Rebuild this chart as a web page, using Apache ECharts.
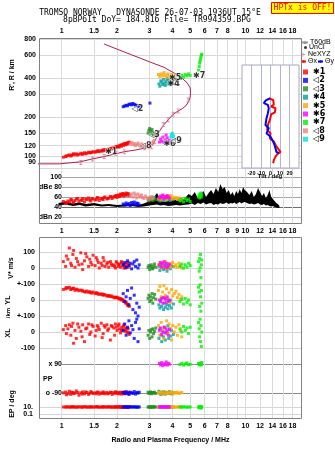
<!DOCTYPE html>
<html>
<head>
<meta charset="utf-8">
<script src="https://cdn.jsdelivr.net/npm/echarts@6/dist/echarts.min.js"></script>
<style>
  html, body { margin: 0; padding: 0; background: #fff; }
  #chart { width: 335px; height: 451px; }
</style>
</head>
<body>
<div id="chart"></div>
<script>
  const freqTicks = [1, 1.5, 2, 3, 4, 5, 6, 7, 8, 9, 10, 12, 14, 16, 18]
  const heightTicks = [80, 90, 100, 120, 150, 200, 300, 400, 600, 800]
  const dbTicks = [20, 40, 60, 80, 100]
  const dbTickNames = ['dBn 20', '40', '60', 'dBe 80', '100']
  const vTicks = [-100, 0, 100]
  const vTickNames = ['+-100', '0', '100']
  const ylTicks = [-100, 0]
  const ylTickNames = ['+-100', '0']
  const xlTicks = [-100, 0]
  const xlTickNames = ['-100', '0']
  const ppTicks = [-90, 90]
  const ppTickNames = ['o -90', 'x 90']
  const epTicks = [0.1, 10]
  const epTickNames = ['0.1', '10.']
  const tiltTicks = [-20, -10, 0, 10, 20]

  const echoNames = ['✱1', '◁2', '◁3', '✱4', '✱5', '✱6', '✱7', '◁8', '◁9']
  const echoColors = ['#ff0000', '#0000ff', '#208c20', '#00a0a0', '#ffa500', '#ff00ff', '#00f000', '#f08080', '#00e0e0']

  // rows: [freq MHz, R' km, V* m/s, YL km, XL km, PP deg, EP deg, amplitude dB]
  const echo1 = [
    [1.02, 98, 40, 66, 15, -90, 10, 51], [1.05, 99, 10, 70, 40, -85, 10, 49],
    [1.06, 100, 75, 78, -10, -102, 10, 47], [1.08, 101, 55, 75, 20, -95, 11, 52],
    [1.10, 102, 125, 80, 45, -80, 9, 50], [1.12, 100, 30, 65, -20, -100, 10, 55],
    [1.13, 101, 15, 70, 35, -86, 11, 54], [1.15, 103, 85, 72, 55, -88, 12, 48],
    [1.16, 104, 110, 74, -70, -94, 10, 50], [1.18, 102, 5, 60, 10, -92, 10, 53],
    [1.20, 104, 60, 68, -40, -78, 9, 56], [1.22, 102, 40, 64, 50, -88, 10, 57],
    [1.24, 103, 20, 58, 30, -105, 11, 51], [1.27, 105, 95, 62, 5, -90, 10, 54],
    [1.29, 103, 25, 60, -30, -98, 9, 53], [1.30, 104, -10, 55, 45, -84, 10, 57],
    [1.33, 106, 45, 52, -60, -96, 12, 50], [1.35, 104, 90, 50, 20, -84, 11, 56],
    [1.37, 105, 70, 56, 25, -88, 9, 55], [1.40, 107, 10, 48, 50, -100, 10, 58],
    [1.42, 106, 55, 52, -15, -92, 10, 54], [1.44, 106, 35, 45, 0, -82, 11, 52],
    [1.46, 107, 20, 44, 45, -88, 10, 57], [1.48, 108, 80, 50, 35, -94, 10, 56],
    [1.52, 107, 15, 40, -25, -90, 10, 54], [1.54, 108, 65, 46, 10, -96, 12, 55],
    [1.56, 109, 50, 42, 40, -86, 12, 59], [1.58, 110, 35, 36, 30, -86, 10, 58],
    [1.60, 108, 0, 38, 15, -98, 9, 53], [1.64, 110, 30, 35, 55, -90, 10, 57],
    [1.66, 109, 15, 38, -35, -94, 10, 56], [1.68, 111, 65, 30, -10, -84, 11, 55],
    [1.70, 112, 45, 34, 40, -90, 11, 59], [1.72, 110, 10, 32, 30, -96, 10, 60],
    [1.76, 112, 25, 26, 45, -88, 10, 56], [1.78, 111, 35, 24, 10, -96, 10, 57],
    [1.80, 113, 5, 28, 20, -92, 12, 58], [1.84, 114, 40, 22, -50, -86, 10, 61],
    [1.86, 113, 25, 26, 40, -88, 10, 60], [1.88, 115, 15, 20, 35, -100, 9, 57],
    [1.92, 116, 20, 18, 25, -90, 10, 60], [1.94, 115, 10, 14, -20, -92, 10, 61],
    [1.96, 117, 0, 15, 50, -84, 11, 62], [1.98, 118, 40, 18, 30, -86, 11, 63],
    [2.00, 118, 30, 16, 10, -94, 10, 59], [2.03, 119, 10, 12, 40, -88, 10, 64],
    [2.05, 117, 20, 6, 50, -96, 10, 62], [2.06, 120, 25, 10, 20, -92, 12, 61],
    [2.09, 121, 5, 8, -5, -86, 10, 66], [2.11, 119, 40, 0, 10, -90, 10, 65],
    [2.12, 122, 35, 5, 30, -98, 9, 63], [2.15, 123, 15, 2, 15, -90, 10, 67],
    [2.17, 121, 25, -8, 35, -94, 10, 66], [2.18, 124, 0, -5, 45, -84, 11, 62],
    [2.21, 125, 20, -10, 5, -94, 10, 65], [2.23, 122, 0, -20, 15, -86, 11, 64],
    [2.24, 124, 10, -15, 25, -88, 10, 68], [2.27, 126, 30, -25, 0, -92, 12, 64],
    [2.29, 124, 35, -35, -5, -90, 10, 67], [2.30, 127, 5, -30, 20, -86, 10, 66],
    [2.33, 128, 15, -40, -15, -96, 10, 63]
  ]
  const echo2 = [
    [2.16, 240, 20, 40, 10, -88, 10, 46], [2.20, 243, 35, -10, 50, -96, 11, 44],
    [2.24, 246, 5, 20, -20, -84, 10, 48], [2.28, 244, 45, 60, 30, -92, 9, 45],
    [2.32, 250, 15, -30, 70, -100, 10, 47], [2.36, 252, 30, 10, -5, -86, 12, 43],
    [2.40, 248, -5, 75, 40, -90, 10, 49], [2.44, 254, 25, -60, 15, -94, 10, 46],
    [2.48, 250, 40, 30, -40, -82, 11, 50], [2.52, 247, 10, -80, 60, -98, 10, 45],
    [2.56, 244, 50, -20, 80, -88, 9, 48], [2.60, 240, 0, -100, -60, -92, 10, 47],
    [2.64, 245, 20, -45, 20, -86, 10, 44], [3.02, 256, null, null, null, null, null, null]
  ]
  const echo3 = [
    [2.95, 150, 5, 10, -20, -86, 10, 55], [2.98, 158, 15, 30, 10, -94, 10, 52],
    [3.01, 163, -10, -10, -40, -90, 11, 58], [3.04, 155, 10, 20, 0, -84, 10, 54],
    [3.07, 148, 20, 0, 15, -96, 9, 57], [3.10, 160, 0, 40, -30, -88, 10, 60],
    [3.13, 152, -5, -20, 20, -92, 10, 53], [3.16, 145, 10, 15, -10, -90, 12, 56],
    [3.20, 150, 25, 35, 5, -86, 10, 59], [3.25, 146, 5, 5, 25, -94, 10, 55]
  ]
  const echo4 = [
    [3.38, 360, 10, -30, -40, -80, 10, 54], [3.42, 345, -15, -50, 20, -92, 10, 52],
    [3.46, 380, 20, 0, -20, -100, 11, 58], [3.50, 370, 5, -40, -60, -88, 10, 55],
    [3.54, 355, 30, 15, 10, -96, 9, 60], [3.58, 390, -10, -60, -30, -84, 10, 53],
    [3.62, 365, 15, -20, 30, -90, 10, 57], [3.66, 350, 0, -45, -50, -98, 12, 56],
    [3.70, 375, 25, 10, 0, -86, 10, 59], [3.74, 395, -20, -30, -10, -92, 10, 54],
    [3.78, 360, 10, -55, 40, -88, 11, 58], [3.82, 385, 5, -10, -40, -94, 10, 55],
    [3.86, 370, 20, -35, 20, -82, 10, 57], [3.90, 355, -5, 0, -25, -90, 9, 53],
    [3.95, 380, 15, -50, 10, -96, 10, 56], [4.05, null, 10, -25, -15, -88, 10, 55]
  ]
  const echo5 = [
    [3.36, 425, 20, 60, 40, -90, 10, 56], [3.42, 410, 35, 85, -20, -86, 11, 60],
    [3.48, 430, 0, 20, 60, -96, 10, 54], [3.54, 415, 25, 50, 10, -82, 10, 62],
    [3.60, 440, 10, 90, -40, -92, 9, 57], [3.66, 420, 40, 30, 30, -100, 10, 59],
    [3.72, 405, -5, 70, 70, -88, 12, 55], [3.78, 430, 30, 10, -10, -94, 10, 61],
    [3.84, 415, 15, 45, 50, -86, 10, 58], [3.90, 400, 5, -15, 20, -90, 11, 63],
    [3.96, 425, 25, 65, -50, -84, 10, 56], [4.02, 410, 35, 25, 40, -98, 10, 60],
    [4.10, 420, 10, 40, 0, -88, 9, 57], [4.18, null, 20, 55, 30, -92, 10, 59],
    [4.26, null, 5, 15, -20, -86, 10, 55], [4.34, null, 30, 35, 45, -94, 11, 58],
    [4.42, null, 15, 5, 10, -90, 10, 54], [4.50, null, 0, 20, -30, -88, 10, 56]
  ]
  const echo6 = [
    [3.40, 128, 20, 0, 10, 95, 10, 58], [3.45, 135, 35, -10, 25, 85, 10, 62],
    [3.50, 130, 5, 10, -15, 100, 11, 60], [3.55, 140, 25, -20, 0, 80, 10, 64],
    [3.60, 127, 40, 15, 30, 92, 9, 57], [3.65, 133, 10, 5, -5, 88, 10, 61],
    [3.70, 145, 30, -15, 20, 104, 10, 59], [3.75, 138, 0, 20, 5, 84, 12, 63],
    [3.80, 126, 15, 0, -20, 96, 10, 60], [3.85, 132, 25, -5, 15, 90, 10, 58]
  ]
  const echo7 = [
    [4.40, 410, 10, -10, 20, 88, 10, 52], [4.50, 420, 25, 5, 0, 95, 10, 55],
    [4.60, 405, 0, -25, 35, 84, 11, 50], [4.70, 425, 20, 10, 10, 92, 10, 57],
    [4.80, 415, 5, -15, 25, 98, 9, 53], [4.90, 430, 30, 0, -10, 86, 10, 56],
    [5.00, 418, 15, -30, 30, 90, 10, 51], [5.55, 460, 40, 80, 60, 94, 8, 60],
    [5.60, 490, -20, 50, 20, 86, 12, 64], [5.63, 520, 60, -40, -30, 92, 6, 58],
    [5.66, 540, 0, 95, 80, 88, 14, 66], [5.69, 560, 85, 20, -60, 96, 7, 62],
    [5.72, 580, -60, -70, 40, 84, 15, 68], [5.75, 600, 20, 60, -90, 90, 5, 60],
    [5.78, 610, 50, -20, 0, 100, 11, 65]
  ]
  const echo8 = [
    [2.36, 124, null, null, null, null, null, 62], [2.40, 127, null, null, null, null, null, 66],
    [2.44, 122, null, null, null, null, null, 60], [2.48, 125, null, null, null, null, null, 68],
    [2.52, 120, null, null, null, null, null, 64], [2.56, 123, null, null, null, null, null, 58],
    [2.60, 126, null, null, null, null, null, 66], [2.64, 121, null, null, null, null, null, 62],
    [2.68, 119, null, null, null, null, null, 60], [2.72, 124, null, null, null, null, null, 64],
    [2.76, 118, null, null, null, null, null, 59], [2.80, 122, null, null, null, null, null, 57],
    [2.86, 117, null, null, null, null, null, 62], [2.92, 120, null, null, null, null, null, 58],
    [2.98, 116, null, null, null, null, null, 55], [3.04, 121, null, null, null, null, null, 60],
    [3.10, 126, null, null, null, null, null, 56], [3.15, 130, null, null, null, null, null, 58]
  ]
  const echo9 = [
    [3.92, 140, null, null, null, null, null, null], [3.96, 146, null, null, null, null, null, null],
    [4.00, 150, null, null, null, null, null, null], [4.03, 138, null, null, null, null, null, null],
    [4.06, 143, null, null, null, null, null, null]
  ]
  const echoes = [echo1, echo2, echo3, echo4, echo5, echo6, echo7, echo8, echo9]

  // label marks of each echo: [freq, height, text]
  const echoMarks = [
    [1.86, 107, '✱1'], [2.58, 232, '◁2'], [3.18, 145, '◁3'], [4.06, 362, '✱4'],
    [4.14, 398, '✱5'], [3.86, 124, '✱6'], [5.6, 418, '✱7'], [2.86, 119, '◁8'], [4.18, 130, '◁9']
  ]
  const unclFreq = [3.95, 4.0, 4.05, 4.1, 4.15, 4.2, 4.45, 4.0, 4.1]
  const unclHeight = [355, 370, 385, 360, 395, 375, 395, 128, 125]

  // electron density profile
  const profFreq = [0.74, 0.97, 1.25, 1.47, 1.7, 1.97, 2.19, 2.5, 2.83, 3.05, 3.15, 3.25, 3.4, 3.57, 3.79, 4.04, 4.3, 4.55, 4.75, 4.9, 5.0, 5.02, 5.0, 4.82, 4.45, 4.1, 3.6, 3.0, 2.4, 2.0, 1.7]
  const profHeight = [87, 87, 90, 95, 99, 104, 108, 111, 115, 118, 124, 135, 155, 172, 190, 210, 222, 233, 245, 262, 285, 310, 335, 366, 405, 435, 483, 533, 603, 667, 731]
  const neFreq = [1.27, 1.47, 1.7, 1.97, 2.19, 2.83, 3.08, 3.21, 3.57, 3.79, 4.04, 4.3, 4.87]
  const neHeight = [89, 95, 99, 105, 108, 116, 118, 129, 175, 190, 210, 222, 270]

  // noise band in the amplitude panel
  const noiseFreq = [0.96, 1.05, 1.15, 1.25, 1.35, 1.5, 1.65, 1.8, 2.0, 2.2, 2.4, 2.6, 2.8, 3.0, 3.15, 3.3, 3.45, 3.6, 3.8, 4.0, 4.2, 4.4, 4.6, 4.8,
    4.9, 5.1, 5.3, 5.5, 5.7, 5.9, 6.1, 6.3, 6.5, 6.7, 6.9, 7.1, 7.3, 7.5, 7.7, 7.9, 8.1, 8.3, 8.5, 8.7, 8.9, 9.1, 9.3, 9.5, 9.7, 9.9,
    10.2, 10.5, 10.8, 11.1, 11.4, 11.7, 12.0, 12.3, 12.6, 12.9, 13.2, 13.5, 13.8, 14.1, 14.4, 14.7, 15.0, 15.3]
  const noiseHigh = [48, 51, 47, 49, 46, 48, 45, 46, 44, 45, 46, 44, 47, 52, 58, 68, 54, 50, 52, 56, 54, 58, 55, 62,
    66, 62, 70, 58, 64, 72, 60, 68, 74, 66, 78, 70, 86, 76, 80, 68, 74, 64, 70, 62, 72, 66, 76, 68, 80, 74,
    70, 64, 72, 60, 66, 78, 70, 62, 68, 58, 64, 74, 60, 56, 52, 48, 46, 42]
  const noiseLow = [43, 45, 42, 44, 41, 43, 41, 42, 40, 41, 42, 40, 41, 43, 44, 45, 43, 44, 42, 43, 44, 43, 44, 45,
    45, 47, 44, 48, 46, 49, 45, 47, 48, 44, 46, 45, 48, 46, 47, 49, 46, 48, 47, 49, 46, 48, 50, 47, 49, 50,
    48, 46, 47, 45, 46, 48, 45, 44, 46, 43, 44, 42, 41, 42, 40, 39, 38, 38]

  // tilt inset
  const tiltXHeight = [303, 298, 285, 279, 274, 262, 256, 240, 225, 211, 201, 186, 177, 162, 147, 140, 133, 123, 114]
  const thetaX = [-1.8, 2.8, 3.5, 0.7, 5.3, 4.6, 0.7, -0.7, -2.8, -3.5, 0, -0.7, 3.5, 6.3, 10.5, 7, 5.3, 3.5, 2.8]
  const tiltYHeight = [303, 296, 289, 284, 274, 269, 259, 245, 225, 216, 201, 191, 177, 167, 147, 143]
  const thetaY = [-0.7, -5.3, -7, -2.8, -1.8, 0, -2.8, -4.2, -5.3, -1.8, -4.2, 0, 2.8, 4.2, 6.3, 8.8]

  const lg = Math.log10
  const fMin = lg(0.752)
  const fMax = lg(20.3)
  const font = 'Liberation Sans'
  const mono = 'DejaVu Sans Mono'
  const tickFont = { fontSize: 7, fontWeight: 'bold', color: '#000', fontFamily: font }

  const chart = echarts.init(document.getElementById('chart'), null, { renderer: 'canvas' })

  const grids = [
    { left: 39, width: 263, top: 38, height: 132 },
    { left: 39, width: 263, top: 170, height: 54 },
    { left: 39, width: 263, top: 237, height: 47 },
    { left: 39, width: 263, top: 284, height: 32 },
    { left: 39, width: 263, top: 316, height: 41 },
    { left: 39, width: 263, top: 357, height: 43 },
    { left: 39, width: 263, top: 400, height: 19 },
    { left: 242, width: 57, top: 65, height: 103, show: true, backgroundColor: '#fff', borderColor: '#a8a8c0', borderWidth: 1, z: 5 }
  ]

  function freqAxis(g, labelMode) {
    const vals = freqTicks.map(lg)
    return {
      type: 'value', gridIndex: g, min: fMin, max: fMax,
      position: g === 0 ? 'top' : 'bottom',
      axisLine: { show: false },
      axisTick: { show: false, customValues: vals },
      axisLabel: {
        show: !!labelMode, customValues: vals, ...tickFont,
        margin: g === 0 ? 3 : 4,
        formatter: v => {
          const f = Math.round(Math.pow(10, v) * 10) / 10
          if (labelMode === 'no9' && f === 9) return ''
          return String(f)
        }
      },
      splitLine: { show: true, lineStyle: { color: '#dadada', width: 1 } }
    }
  }

  function valueAxis(g, min, max, ticks, names, opts) {
    const o = opts || {}
    const vals = o.log ? ticks.map(lg) : ticks
    return {
      type: 'value', gridIndex: g, min: min, max: max,
      axisLine: { show: false },
      axisTick: { show: false, customValues: vals },
      axisLabel: {
        customValues: vals, ...tickFont,
        margin: o.margin !== undefined ? o.margin : 4,
        align: 'right',
        backgroundColor: o.inside ? '#fff' : 'transparent',
        width: o.inside ? 24 : undefined,
        formatter: v => {
          let best = 0
          vals.forEach((t, i) => { if (Math.abs(t - v) < Math.abs(vals[best] - v)) best = i })
          return names[best]
        }
      },
      splitLine: { show: true, lineStyle: { color: o.lineColor || '#d4d4d4', width: 1 } }
    }
  }

  const xAxes = [
    freqAxis(0, 'no9'), freqAxis(1, 'all'), freqAxis(2), freqAxis(3), freqAxis(4), freqAxis(5), freqAxis(6, 'no9'),
    {
      type: 'value', gridIndex: 7, min: -30, max: 30, z: 6,
      axisLine: { show: false },
      axisTick: { show: false, customValues: tiltTicks },
      axisLabel: { customValues: tiltTicks, fontSize: 5.5, fontWeight: 'bold', color: '#000', fontFamily: font, margin: 2 },
      splitLine: { show: true, lineStyle: { color: '#b4b4c8' } }
    }
  ]
  xAxes[6].name = 'Radio and Plasma Frequency / MHz'
  xAxes[6].nameLocation = 'middle'
  xAxes[6].nameGap = 18
  xAxes[6].nameTextStyle = { ...tickFont }

  const yAxes = [
    valueAxis(0, lg(78), lg(813), heightTicks, heightTicks.map(String), { log: true, margin: 3, lineColor: '#d8d8d8' }),
    valueAxis(1, 6, 114, dbTicks, dbTickNames, { inside: true, margin: -23, lineColor: ['#b4b4dc', '#6c6c6c', '#a4a4a4', '#a4a4a4', '#a4a4a4'] }),
    valueAxis(2, -100, 194, vTicks, vTickNames, {}),
    valueAxis(3, -100, 100, ylTicks, ylTickNames, {}),
    valueAxis(4, -156, 100, xlTicks, xlTickNames, {}),
    valueAxis(5, -135, 135, ppTicks, ppTickNames, { inside: true, margin: -23, lineColor: '#8c8c8c' }),
    valueAxis(6, -2.43, 3, epTicks, epTickNames, { log: true, margin: 6 }),
    { type: 'value', gridIndex: 7, min: 100, max: 400, show: false, splitLine: { show: false } }
  ]

  // column of each row used by each panel, log panels are 0 and 6
  const panelCols = [1, 7, 2, 3, 4, 5, 6]
  const series = []

  series.push({
    type: 'custom', name: 'noise', xAxisIndex: 1, yAxisIndex: 1, silent: true, z: 1,
    data: [[lg(noiseFreq[0]), noiseLow[0]]],
    renderItem: (params, api) => {
      const pts = []
      noiseFreq.forEach((f, i) => pts.push(api.coord([lg(f), noiseHigh[i]])))
      for (let i = noiseFreq.length - 1; i >= 0; i--) pts.push(api.coord([lg(noiseFreq[i]), noiseLow[i]]))
      return { type: 'polygon', shape: { points: pts }, style: { fill: '#000' } }
    }
  })

  series.push({
    type: 'line', name: 'T60dB', xAxisIndex: 0, yAxisIndex: 0, data: [], symbol: 'none',
    lineStyle: { color: '#999', width: 1 }, itemStyle: { color: '#999' }
  })

  series.push({
    type: 'line', name: 'profile', xAxisIndex: 0, yAxisIndex: 0, symbol: 'none', silent: true, z: 3,
    data: profFreq.map((f, i) => [lg(f), lg(profHeight[i])]),
    lineStyle: { color: '#a8204c', width: 1 }
  })

  series.push({
    type: 'scatter', name: 'NeXYZ', xAxisIndex: 0, yAxisIndex: 0, z: 4,
    symbol: 'path://M0,0H6V2H4V8H6V10H0V8H2V2H0Z', symbolSize: [3, 5],
    data: neFreq.map((f, i) => [lg(f), lg(neHeight[i])]),
    itemStyle: { color: '#e0708c' }
  })

  echoes.forEach((rows, e) => {
    panelCols.forEach((col, g) => {
      const pts = []
      rows.forEach(r => {
        const v = r[col]
        if (v === null || v === undefined) return
        pts.push([lg(r[0]), (g === 0 || g === 6) ? lg(v) : v])
      })
      series.push({
        type: 'scatter', name: echoNames[e], xAxisIndex: g, yAxisIndex: g, z: 5,
        symbol: 'rect', symbolSize: 3, data: pts,
        itemStyle: { color: echoColors[e] }
      })
    })
  })

  series.push({
    type: 'scatter', name: 'UnCl', xAxisIndex: 0, yAxisIndex: 0, z: 6,
    symbol: 'rect', symbolSize: 2,
    data: unclFreq.map((f, i) => [lg(f), lg(unclHeight[i])]),
    itemStyle: { color: '#000' }
  })

  series.push({
    type: 'scatter', name: 'marks', xAxisIndex: 0, yAxisIndex: 0, z: 7, symbolSize: 0, silent: true,
    data: echoMarks.map(m => ({ value: [lg(m[0]), lg(m[1])], name: m[2] })),
    label: {
      show: true, formatter: '{b}', position: 'inside', fontSize: 8, fontWeight: 'bold',
      color: '#000', fontFamily: 'DejaVu Sans', textBorderColor: '#fff', textBorderWidth: 1
    }
  })

  series.push({
    type: 'line', name: 'Θx', xAxisIndex: 7, yAxisIndex: 7, symbol: 'none', z: 7,
    data: thetaX.map((t, i) => [t, tiltXHeight[i]]),
    lineStyle: { color: '#ff0000', width: 2 }, itemStyle: { color: '#ff0000' }
  })
  series.push({
    type: 'line', name: 'Θy', xAxisIndex: 7, yAxisIndex: 7, symbol: 'none', z: 7,
    data: thetaY.map((t, i) => [t, tiltYHeight[i]]),
    lineStyle: { color: '#0000ff', width: 2 }, itemStyle: { color: '#0000ff' }
  })

  const sideText = (text, x, y, size) => ({
    type: 'text', x: x, y: y, rotation: Math.PI / 2, z: 20,
    style: { text: text, x: 0, y: 0, align: 'center', verticalAlign: 'middle', font: 'bold ' + (size || 7) + 'px ' + font, fill: '#000' }
  })

  const smallLegend = (items, left, top, extra) => Object.assign({
    data: items, orient: 'horizontal', left: left, top: top, padding: 0, width: 60,
    itemWidth: 6, itemHeight: 4, itemGap: 2, selectedMode: false,
    textStyle: { fontSize: 7, color: '#000', fontFamily: font, padding: [0, 0, 0, -3] }
  }, extra || {})

  chart.setOption({
    animation: false,
    backgroundColor: '#fff',
    grid: grids,
    xAxis: xAxes,
    yAxis: yAxes,
    legend: [
      smallLegend(['T60dB'], 301, 39),
      smallLegend([{ name: 'UnCl', icon: 'circle' }], 304, 44, { itemWidth: 3, itemHeight: 3 }),
      smallLegend([{ name: 'NeXYZ', icon: 'path://M4,0H6V4H10V6H6V10H4V6H0V4H4Z' }], 301, 51),
      smallLegend(['Θx'], 300, 58, { itemHeight: 3, itemWidth: 5 }),
      smallLegend(['Θy'], 317, 58, { itemHeight: 3, itemWidth: 5 }),
      {
        data: echoNames, orient: 'vertical', left: 303, top: 68, padding: 0, icon: 'rect',
        itemWidth: 5, itemHeight: 5, itemGap: 0.4, selectedMode: false,
        textStyle: { fontSize: 8, lineHeight: 8, fontWeight: 'bold', color: '#000', fontFamily: 'DejaVu Sans' }
      }
    ],
    graphic: [
      { type: 'rect', z: 20, shape: { x: 39.5, y: 38.5, width: 262, height: 185 }, style: { fill: 'none', stroke: '#808080', lineWidth: 1 } },
      { type: 'rect', z: 20, shape: { x: 39.5, y: 237.5, width: 262, height: 181 }, style: { fill: 'none', stroke: '#808080', lineWidth: 1 } },
      { type: 'text', z: 20, style: { text: 'TROMSO NORWAY   DYNASONDE 26-07-03 1936UT 15°E', x: 150, y: 13, align: 'center', verticalAlign: 'middle', font: '8px ' + mono, fill: '#000' } },
      { type: 'text', z: 20, style: { text: '8pBP6It DoY= 184.816 File= TR994359.BPG', x: 157, y: 20, align: 'center', verticalAlign: 'middle', font: '8px ' + mono, fill: '#000' } },
      { type: 'rect', z: 20, shape: { x: 271.5, y: 2.5, width: 62, height: 11 }, style: { fill: '#ffff00', stroke: '#ff0000', lineWidth: 1 } },
      { type: 'text', z: 21, style: { text: 'HPTx is OFF!', x: 302.5, y: 8, align: 'center', verticalAlign: 'middle', font: '8px ' + mono, fill: '#ff0000' } },
      sideText("R', R / km", 12, 75),
      sideText('V* m/s', 11, 268),
      sideText('YL', 8, 300),
      sideText('/km', 8, 313, 6),
      sideText('XL', 8, 333),
      sideText('EP / deg', 12, 404),
      { type: 'text', z: 20, style: { text: 'PP', x: 43, y: 379, align: 'left', verticalAlign: 'middle', font: 'bold 7px ' + font, fill: '#000' } },
      { type: 'text', z: 20, style: { text: 'Tilt / deg', x: 270, y: 176, align: 'center', verticalAlign: 'middle', font: 'bold 6px ' + font, fill: '#000' } }
    ],
    series: series
  })
</script>
</body>
</html>
